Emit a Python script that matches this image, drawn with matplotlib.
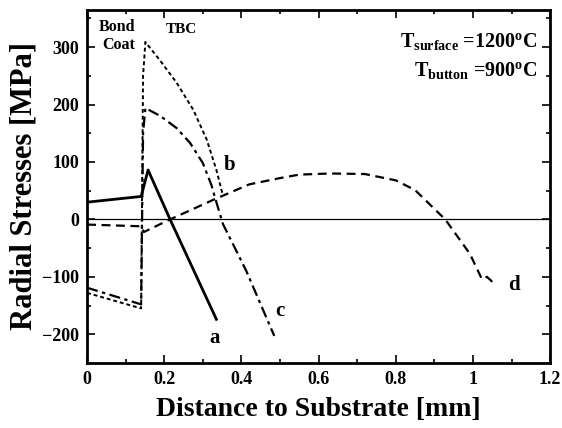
import matplotlib
matplotlib.use('Agg')
import matplotlib.pyplot as plt
from matplotlib.ticker import MultipleLocator

plt.rcParams['font.family'] = ['Liberation Serif', 'DejaVu Serif']
plt.rcParams['font.weight'] = 'bold'
plt.rcParams['mathtext.fontset'] = 'custom'
plt.rcParams['mathtext.rm'] = 'Liberation Serif:bold'
plt.rcParams['mathtext.bf'] = 'Liberation Serif:bold'
plt.rcParams['mathtext.it'] = 'Liberation Serif:bold'

# curve a (solid)
a_x = [0.0, 0.14, 0.158, 0.215, 0.335]
a_y = [30, 40, 86, 0, -174]

# curve b (fine dashes)
b_x = [0.0, 0.14, 0.145, 0.151, 0.19, 0.232, 0.275, 0.31, 0.335, 0.348, 0.352]
b_y = [-128, -155, 250, 309, 276, 238, 191, 139, 86, 52, 42]

# curve c (dash-dot)
c_x = [0.0, 0.14, 0.145, 0.151, 0.19, 0.232, 0.267, 0.30, 0.322, 0.335, 0.352, 0.412, 0.485]
c_y = [-119, -148, 150, 194, 180, 159, 133, 98, 60, 30, -8, -89, -203]

# curve d (dashes)
d_x = [0.0, 0.14, 0.147, 0.215, 0.33, 0.42, 0.5, 0.55, 0.63, 0.72, 0.80, 0.85, 0.928,
       0.992, 1.023, 1.036, 1.057]
d_y = [-9, -12, -22, 0, 35, 61, 72, 78, 80, 79, 68, 51, 0,
       -60, -104, -100, -113]

xticks = [0, 0.2, 0.4, 0.6, 0.8, 1, 1.2]
xtick_labels = ['0', '0.2', '0.4', '0.6', '0.8', '1', '1.2']
yticks = [-200, -100, 0, 100, 200, 300]

fig = plt.figure(figsize=(5.62, 4.28), dpi=100)
ax = fig.add_axes([0.155, 0.152, 0.824, 0.825])

ax.axhline(0, color='black', lw=0.9)
ax.plot(a_x, a_y, color='black', lw=2.0, ls='-')
ax.plot(b_x, b_y, color='black', lw=1.4, dashes=(2, 1.5))
ax.plot(c_x, c_y, color='black', lw=1.6, dashes=(5, 2, 1.5, 2))
ax.plot(d_x, d_y, color='black', lw=1.6, dashes=(4, 2.5))

ax.set_xlim(0, 1.2)
ax.set_ylim(-250, 365)
ax.set_xticks(xticks)
ax.set_xticklabels(xtick_labels)
ax.set_yticks(yticks)
ax.xaxis.set_minor_locator(MultipleLocator(0.1))
ax.yaxis.set_minor_locator(MultipleLocator(50))
ax.tick_params(which='both', direction='in', top=True, right=True, width=1.2)
ax.tick_params(which='major', length=6, labelsize=13, pad=6)
ax.tick_params(which='minor', length=3)
for lbl in ax.get_xticklabels() + ax.get_yticklabels():
    lbl.set_fontweight('bold')
for s in ax.spines.values():
    s.set_linewidth(2.0)

ax.set_xlabel('Distance to Substrate [mm]', fontsize=20, fontweight='bold', labelpad=6)
ax.set_ylabel('Radial Stresses [MPa]', fontsize=22, fontweight='bold', labelpad=2)

ax.text(0.03, 335, 'Bond', fontsize=11.5, fontweight='bold', ha='left', va='center')
ax.text(0.04, 304, 'Coat', fontsize=11.5, fontweight='bold', ha='left', va='center')
ax.text(0.245, 330, 'TBC', fontsize=11, fontweight='bold', ha='center', va='center')

ax.text(0.33, -207, 'a', fontsize=15, fontweight='bold', ha='center', va='center')
ax.text(0.37, 95, 'b', fontsize=15, fontweight='bold', ha='center', va='center')
ax.text(0.50, -160, 'c', fontsize=15, fontweight='bold', ha='center', va='center')
ax.text(1.105, -115, 'd', fontsize=15, fontweight='bold', ha='center', va='center')

ax.text(1.168, 309, r'T$_{\mathrm{surface}}$ =1200$^{\mathrm{o}}$C', fontsize=14.5,
        fontweight='bold', ha='right', va='center')
ax.text(1.168, 259, r'T$_{\mathrm{button}}$ =900$^{\mathrm{o}}$C', fontsize=14.5,
        fontweight='bold', ha='right', va='center')

fig.savefig('out.png', dpi=100, facecolor='white')
